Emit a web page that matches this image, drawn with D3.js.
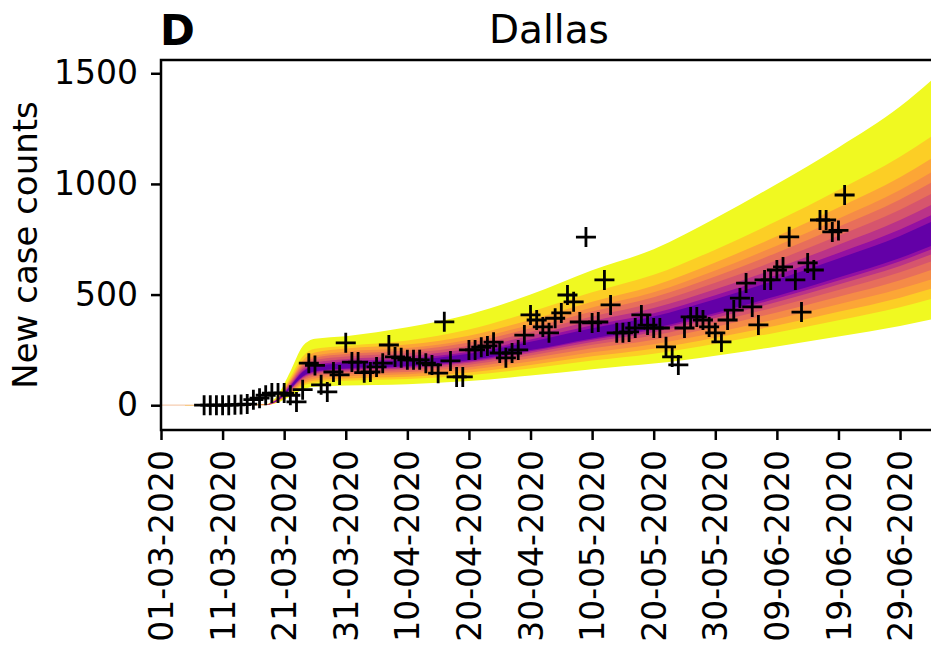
<!DOCTYPE html>
<html>
<head>
<meta charset="utf-8">
<script src="https://cdn.jsdelivr.net/npm/d3@7"></script>
<style>
  body { margin: 0; background: #fff; }
  svg { display: block; }
</style>
</head>
<body>
<div id="chart"></div>
<script>
// Observed daily new cases, Dallas (first point 08-03-2020)
const caseStart = "2020-03-08";
const caseCounts = [
    0, 0, 0, 0, 0, 2, 3, 5, 25, 32,
    45, 55, 55, 55, 45, 15, 70, 190, 180, 92,
    60, 150, 137, 282, 195, 195, 147, 150, 173, 190,
    272, 218, 214, 205, 205, 205, 190, 182, 145, 377,
    200, 128, 128, 250, 250, 262, 268, 285, 236, 214,
    236, 250, 317, 408, 385, 354, 327, 393, 417, 498,
    467, 376, 760, 372, 376, 566, 453, 327, 327, 331,
    349, 408, 362, 349, 349, 264, 218, 182, 349, 399,
    399, 385, 354, 327, 286, 385, 430, 484, 552, 444,
    363, 566, 566, 611, 625, 761, 566, 421, 643, 611,
    837, 837, 783, 790, 950
];

// Fan chart: dates where the quantile edges were read
const bandDates = ["2020-03-01", "2020-03-18", "2020-03-20", "2020-03-22", "2020-03-24", "2020-03-26",
    "2020-03-31", "2020-04-10", "2020-04-20", "2020-04-30", "2020-05-10", "2020-05-20",
    "2020-05-30", "2020-06-09", "2020-06-19", "2020-06-29", "2020-07-05"];

// upper edges, widest interval first
const upper0 = [0, 4, 48, 152, 266, 300, 312, 352, 410, 500, 610, 705, 845, 1000, 1165, 1350, 1490];
const upper1 = [0, 3, 39, 126, 220, 255, 268, 292, 342, 421, 510, 589, 703, 832, 973, 1123, 1232];
const upper2 = [0, 3, 36, 115, 202, 238, 256, 274, 314, 386, 468, 540, 645, 763, 893, 1030, 1130];
const upper3 = [0, 3, 34, 109, 190, 224, 242, 258, 296, 364, 442, 510, 609, 721, 843, 972, 1068];
const upper4 = [0, 3, 33, 104, 182, 215, 231, 247, 283, 348, 423, 488, 582, 689, 806, 930, 1021];
const upper5 = [0, 2, 31, 99, 173, 204, 220, 235, 269, 331, 401, 463, 553, 655, 766, 883, 969];
const upper6 = [0, 2, 29, 94, 164, 193, 208, 222, 255, 314, 380, 439, 524, 620, 725, 837, 918];
const upper7 = [0, 2, 28, 89, 155, 183, 198, 211, 242, 297, 361, 416, 497, 588, 688, 794, 871];
const upper8 = [0, 2, 27, 86, 150, 177, 190, 203, 233, 287, 348, 401, 479, 567, 663, 765, 840];

// lower edges, widest interval first
const lower0 = [0, 1, 12, 40, 70, 83, 89, 95, 109, 134, 163, 188, 224, 265, 310, 358, 393];
const lower1 = [0, 1, 16, 50, 87, 102, 110, 118, 135, 166, 202, 233, 278, 329, 384, 443, 487];
const lower2 = [0, 1, 17, 54, 95, 112, 121, 129, 148, 182, 221, 255, 305, 360, 422, 486, 534];
const lower3 = [0, 1, 18, 59, 103, 121, 131, 140, 160, 197, 239, 276, 329, 390, 456, 526, 577];
const lower4 = [0, 2, 20, 63, 111, 130, 141, 150, 172, 212, 257, 296, 354, 419, 490, 565, 620];
const lower5 = [0, 2, 21, 67, 118, 139, 150, 160, 183, 225, 273, 315, 376, 445, 521, 601, 659];
const lower6 = [0, 2, 22, 70, 123, 145, 157, 167, 192, 236, 286, 330, 394, 466, 546, 629, 691];
const lower7 = [0, 2, 23, 73, 127, 150, 162, 173, 198, 244, 296, 341, 408, 482, 564, 651, 714];
const lower8 = [0, 2, 23, 74, 130, 153, 166, 177, 203, 249, 302, 349, 417, 493, 577, 665, 730];

const bandUpper = [upper0, upper1, upper2, upper3, upper4, upper5, upper6, upper7, upper8];
const bandLower = [lower0, lower1, lower2, lower3, lower4, lower5, lower6, lower7, lower8];
// position in the plasma colormap for each interval
const bandShades = [1.0, 0.9, 0.8, 0.72, 0.63, 0.55, 0.43, 0.31, 0.18];

const xTickDates = ["2020-03-01", "2020-03-11", "2020-03-21", "2020-03-31", "2020-04-10", "2020-04-20",
    "2020-04-30", "2020-05-10", "2020-05-20", "2020-05-30", "2020-06-09", "2020-06-19", "2020-06-29"];
const yTicks = [0, 500, 1000, 1500];

const W = 931, H = 647;
const margin = { top: 60, right: -6, bottom: 217, left: 161 };
const plotW = W - margin.left - margin.right;
const plotH = H - margin.top - margin.bottom;
const font = "DejaVu Sans, sans-serif";

const parse = d3.utcParse("%Y-%m-%d");
const fmt = d3.utcFormat("%d-%m-%Y");

const svg = d3.select("#chart").append("svg")
    .attr("width", W)
    .attr("height", H);

svg.append("defs").append("clipPath")
    .attr("id", "plot-clip")
    .append("rect")
    .attr("width", plotW)
    .attr("height", plotH);

const g = svg.append("g")
    .attr("transform", `translate(${margin.left},${margin.top})`);

const x = d3.scaleUtc()
    .domain([parse("2020-03-01"), parse("2020-07-05")])
    .range([0, plotW]);

const y = d3.scaleLinear()
    .domain([-112, 1560])
    .range([plotH, 0]);

// fan of quantile intervals
const bandG = g.append("g").attr("clip-path", "url(#plot-clip)");
const bandX = bandDates.map(parse);

// thin trace while the band has no width yet
bandG.append("line")
    .attr("x1", x(bandX[0]))
    .attr("x2", x(bandX[1]))
    .attr("y1", y(0))
    .attr("y2", y(0))
    .attr("stroke", "#f6cdb0")
    .attr("stroke-width", 1.2);

bandUpper.forEach((up, i) => {
    const lo = bandLower[i];
    const pts = bandX.map((d, j) => ({ date: d, lo: lo[j], hi: up[j] }));
    const area = d3.area()
        .x(d => x(d.date))
        .y0(d => y(d.lo))
        .y1(d => y(d.hi))
        .curve(d3.curveMonotoneX);
    bandG.append("path")
        .datum(pts)
        .attr("d", area)
        .attr("fill", d3.interpolatePlasma(bandShades[i]));
});

// observed counts as + markers
const start = parse(caseStart);
const cases = caseCounts.map((v, i) => ({ date: d3.utcDay.offset(start, i), value: v }));

g.append("g")
    .attr("clip-path", "url(#plot-clip)")
    .selectAll("path")
    .data(cases)
    .enter().append("path")
    .attr("transform", d => `translate(${x(d.date)},${y(d.value)})`)
    .attr("d", "M-10,0H10M0,-10V10")
    .attr("stroke", "#000")
    .attr("stroke-width", 2.8)
    .attr("fill", "none");

// axes
const yAxis = d3.axisLeft(y)
    .tickValues(yTicks)
    .tickFormat(d3.format("d"))
    .tickSize(10)
    .tickPadding(13);

const yG = g.append("g").call(yAxis);
yG.select(".domain").remove();
yG.selectAll(".tick line").attr("stroke-width", 2.5);
yG.selectAll(".tick text")
    .attr("font-family", font)
    .attr("font-size", 33)
    .attr("fill", "#000");

const xAxis = d3.axisBottom(x)
    .tickValues(xTickDates.map(parse))
    .tickFormat(fmt)
    .tickSize(10);

const xG = g.append("g")
    .attr("transform", `translate(0,${plotH})`)
    .call(xAxis);
xG.select(".domain").remove();
xG.selectAll(".tick line").attr("stroke-width", 2.5);
xG.selectAll(".tick text")
    .attr("font-family", font)
    .attr("font-size", 33)
    .attr("fill", "#000")
    .attr("text-anchor", "end")
    .attr("transform", "translate(0,20) rotate(-90)")
    .attr("x", 0)
    .attr("y", 0)
    .attr("dy", "0.35em");

// frame
g.append("rect")
    .attr("width", plotW)
    .attr("height", plotH)
    .attr("fill", "none")
    .attr("stroke", "#000")
    .attr("stroke-width", 2.5);

// titles
svg.append("text")
    .attr("x", margin.left + plotW / 2)
    .attr("y", 43)
    .attr("text-anchor", "middle")
    .attr("font-family", font)
    .attr("font-size", 39)
    .text("Dallas");

svg.append("text")
    .attr("x", 160)
    .attr("y", 45)
    .attr("font-family", font)
    .attr("font-weight", "bold")
    .attr("font-size", 42)
    .text("D");

svg.append("text")
    .attr("transform", `translate(37,${margin.top + plotH / 2}) rotate(-90)`)
    .attr("text-anchor", "middle")
    .attr("font-family", font)
    .attr("font-size", 34)
    .text("New case counts");
</script>
</body>
</html>
